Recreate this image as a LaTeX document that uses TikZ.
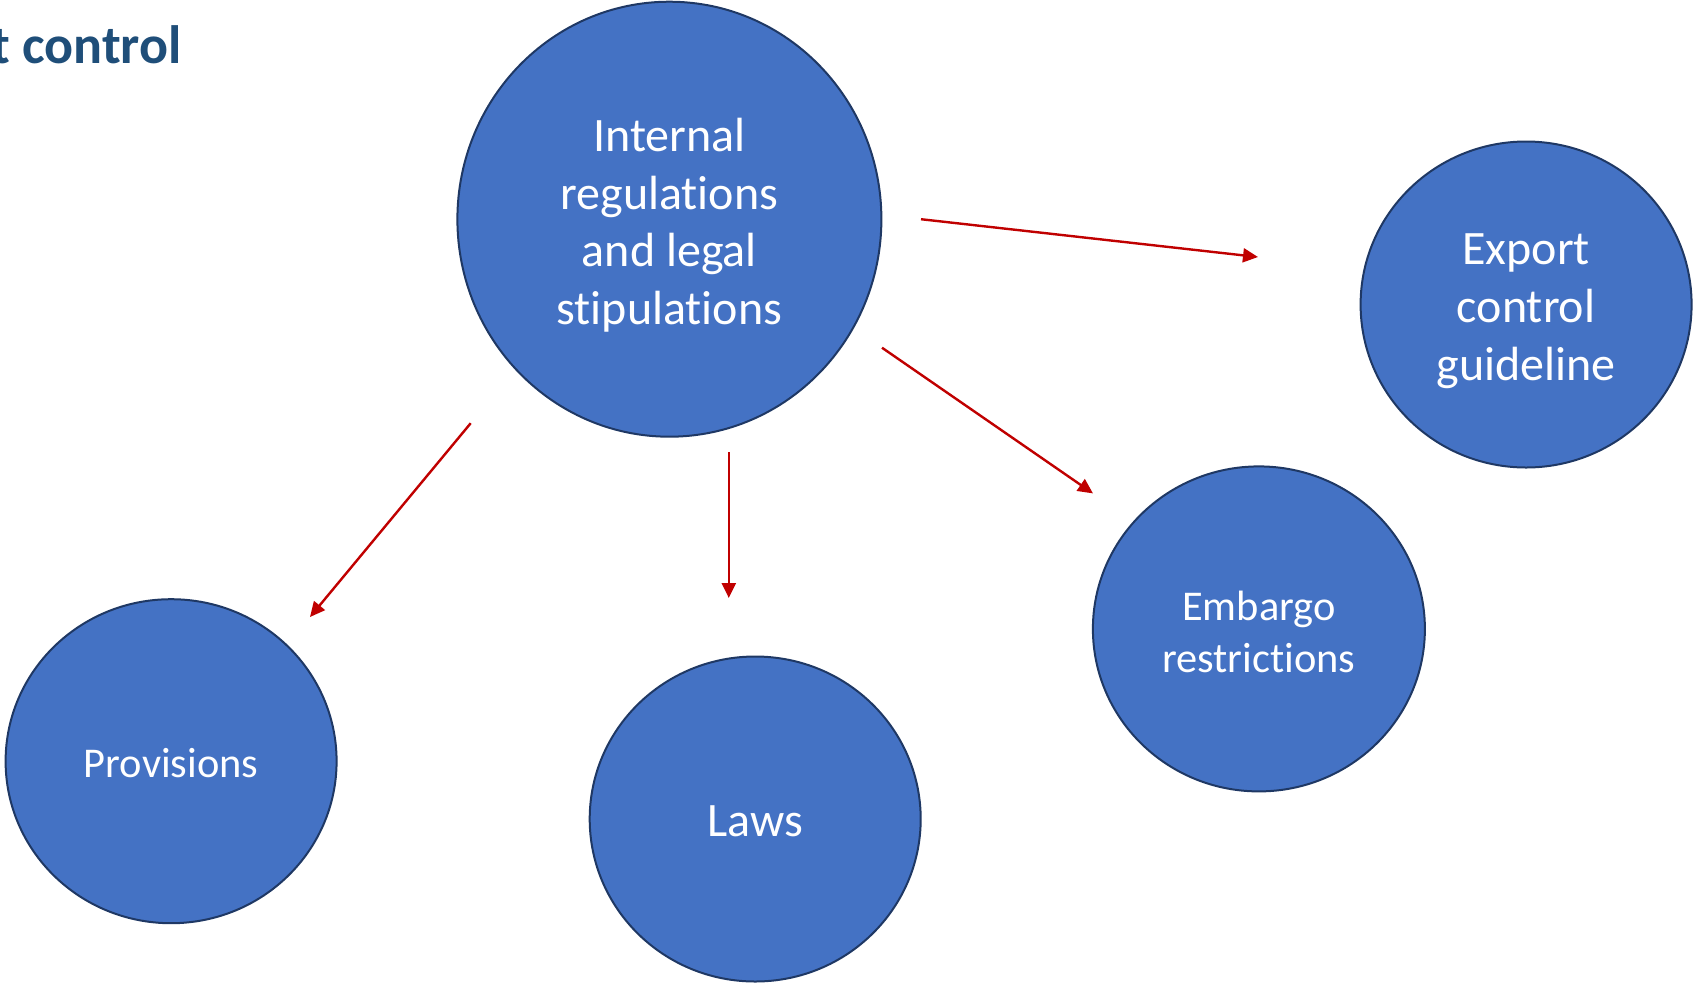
\documentclass[tikz,border=0pt]{standalone}
\usepackage{fontspec}
\setmainfont[Ligatures=NoCommon]{Carlito}
\usetikzlibrary{shapes.geometric,arrows.meta}
\definecolor{nodefill}{HTML}{4472C4}
\definecolor{nodeline}{HTML}{1F3864}
\definecolor{arrowred}{HTML}{C00000}
\definecolor{titleblue}{HTML}{1F4E79}
\tikzset{
  bubble/.style={ellipse, draw=nodeline, line width=1pt, fill=nodefill, inner sep=0pt},
  bigtext/.style={text=white, align=center, inner sep=0pt, font=\fontsize{24pt}{28.9pt}\selectfont},
  smalltext/.style={text=white, align=center, inner sep=0pt, font=\fontsize{21.2pt}{25.9pt}\selectfont},
  link/.style={draw=arrowred, line width=1.2pt, -{Triangle[length=7.5pt,width=7pt]}}
}
\begin{document}
\begin{tikzpicture}[x=0.5pt,y=-0.5pt]
\useasboundingbox (0,0) rectangle (1693,982);
\node[anchor=base east, inner sep=0pt, text=titleblue, font=\fontsize{27pt}{32pt}\selectfont\bfseries] (title) at (182,63) {t control};
\node[bubble, minimum width=212pt, minimum height=217.5pt, label={[bigtext, yshift=-3pt]center:Internal\\regulations\\and legal\\stipulations}] (internal) at (669.4,219.2) {};
\node[bubble, minimum width=165.5pt, minimum height=163pt, label={[bigtext, yshift=-3.5pt]center:Export\\control\\guideline}] (export) at (1526.1,304.5) {};
\node[bubble, minimum width=166pt, minimum height=162.5pt, label={[smalltext, yshift=-1.4pt]center:Embargo\\restrictions}] (embargo) at (1258.9,628.9) {};
\node[bubble, minimum width=165.5pt, minimum height=162pt, label={[smalltext, yshift=-1.1pt]center:Provisions}] (provisions) at (171.1,761.2) {};
\node[bubble, minimum width=165.5pt, minimum height=162.5pt, label={[bigtext, yshift=-1.1pt]center:Laws}] (laws) at (755.2,819) {};
\coordinate (a1s) at (921,219.2);
\coordinate (a1e) at (1258,257);
\coordinate (a2s) at (882,347.7);
\coordinate (a2e) at (1093,493.4);
\coordinate (a3s) at (728.8,452.4);
\coordinate (a3e) at (728.8,598);
\coordinate (a4s) at (470.7,423.2);
\coordinate (a4e) at (310,617);
\draw[link] (a1s) -- (a1e);
\draw[link] (a2s) -- (a2e);
\draw[link] (a3s) -- (a3e);
\draw[link] (a4s) -- (a4e);
\end{tikzpicture}
\end{document}
